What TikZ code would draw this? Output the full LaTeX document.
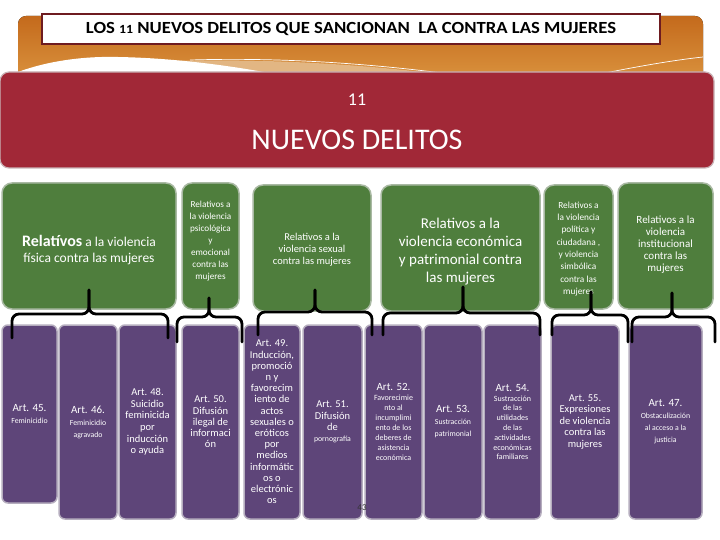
\documentclass[tikz,border=0pt]{standalone}
\usepackage{fontspec}
\setmainfont{Carlito}
\newfontfamily\titlefont[FakeStretch=1.1]{Carlito}
\definecolor{gfill}{HTML}{4F7E3D}
\definecolor{gline}{HTML}{A9B9A3}
\definecolor{pfill}{HTML}{5E4579}
\definecolor{pline}{HTML}{B5ADBE}
\definecolor{rfill}{HTML}{A12837}
\definecolor{rline}{HTML}{C9B3B6}
\definecolor{oranA}{HTML}{C46A1C}
\definecolor{oranB}{HTML}{DB9540}
\definecolor{tanband}{HTML}{E2B683}
\definecolor{tline}{HTML}{6E1B20}
\newcommand\smtxt{\fontsize{7.8}{10}\selectfont}
\newcommand\hdtxt{\fontsize{11}{12}\selectfont}
\begin{document}
\begin{tikzpicture}[x=1pt,y=-1pt,
  gbox/.style={draw=gline, line width=1.5pt, fill=gfill, rounded corners=10pt},
  gtext/.style={text=white, align=center, inner sep=0pt},
  pbox/.style={draw=pline, line width=1.5pt, fill=pfill, rounded corners=6pt, text=white, align=center, inner sep=1pt},
  bracepath/.style={line width=2.8pt, rounded corners=7pt, line cap=round},
]
\useasboundingbox (0,0) rectangle (720,540);
% orange header band
\fill[top color=oranA, bottom color=oranB, rounded corners=8pt] (18,16) rectangle (703,84);
\fill[tanband] (170,61) .. controls (280,58) and (380,66) .. (455,76) -- (240,76) -- cycle;
\fill[white] (18,76) -- (18,72) .. controls (45,62) and (80,56) .. (118,57) .. controls (175,58) and (235,66) .. (285,76) -- cycle;
\draw[white, line width=0.7pt] (190,60) .. controls (290,57) and (380,65) .. (450,74);
\draw[white, line width=0.7pt] (600,74) .. controls (640,66) and (675,60) .. (703,57);
\node[draw=tline, line width=1.6pt, fill=white, minimum width=618, minimum height=30, inner sep=0pt,
  font=\titlefont\fontsize{17}{18}\selectfont\bfseries] (title) at (351,29)
  {LOS {\fontsize{12.5}{12}\selectfont 11} NUEVOS DELITOS QUE SANCIONAN\ \ LA CONTRA LAS MUJERES};
% red banner
\node[draw=rline, line width=1.2pt, fill=rfill, rounded corners=9pt, minimum width=714, minimum height=96] (red) at (357,120) {};
\node[text=white, font=\fontsize{18}{20}\selectfont] (n11) at (357,100) {11};
\node[text=white, font=\fontsize{30}{30}\selectfont] (nd) at (357,140) {NUEVOS DELITOS};
% green boxes
\node[gbox, minimum width=174, minimum height=126] (g1) at (89,246) {};
\node[gbox, minimum width=57, minimum height=126] (g2) at (210.5,246) {};
\node[gbox, minimum width=118, minimum height=126] (g3) at (312,248) {};
\node[gbox, minimum width=159, minimum height=126] (g4) at (460.5,248) {};
\node[gbox, minimum width=69, minimum height=124] (g5) at (578.5,247) {};
\node[gbox, minimum width=95, minimum height=126] (g6) at (665.5,246) {};
\node[gtext, font=\fontsize{13.5}{16}\selectfont] (g1t) at (89,250)
  {{\fontsize{16}{16}\selectfont\bfseries Relatívos} a la violencia\\física contra las mujeres};
\node[gtext, font=\fontsize{9.2}{12}\selectfont] (g2t) at (210.5,241)
  {Relativos a\\la violencia\\psicológica\\y\\emocional\\contra las\\mujeres};
\node[gtext, font=\fontsize{10.5}{12}\selectfont] (g3t) at (312,250)
  {Relativos a la\\violencia sexual\\contra las mujeres};
\node[gtext, font=\fontsize{15}{18}\selectfont] (g4t) at (460.5,252)
  {Relativos a la\\violencia económica\\y patrimonial contra\\las mujeres};
\node[gtext, font=\fontsize{9.3}{12.3}\selectfont] (g5t) at (578.5,249)
  {Relativos a\\la violencia\\política y\\ciudadana ,\\y violencia\\simbólica\\contra las\\mujeres};
\node[gtext, font=\fontsize{11}{12}\selectfont] (g6t) at (665.5,245)
  {Relativos a la\\violencia\\institucional\\contra las\\mujeres};
% purple boxes
\node[pbox, minimum width=55, minimum height=178, font=\hdtxt] (p1) at (29.5,414) {Art. 45.\\{\smtxt Feminicidio}};
\node[pbox, minimum width=58, minimum height=194, font=\hdtxt] (p2) at (88,422) {Art. 46.\\{\smtxt Feminicidio}\\{\smtxt agravado}};
\node[pbox, minimum width=57, minimum height=194, font=\fontsize{10.5}{11.6}\selectfont] (p3) at (147.5,422) {Art. 48.\\Suicidio\\feminicida\\por\\inducción\\o ayuda};
\node[pbox, minimum width=57, minimum height=194, font=\fontsize{10.5}{11.2}\selectfont] (p4) at (210.5,422) {Art. 50.\\Difusión\\ilegal de\\informaci\\ón};
\node[pbox, minimum width=56, minimum height=194, font=\fontsize{10.5}{11.2}\selectfont] (p5) at (272,422) {Art. 49.\\Inducción,\\promoció\\n y\\favorecim\\iento de\\actos\\sexuales o\\eróticos\\por\\medios\\informátic\\os o\\electrónic\\os};
\node[pbox, minimum width=59, minimum height=194, font=\fontsize{10.5}{11.2}\selectfont] (p6) at (332.5,422) {Art. 51.\\Difusión\\de\\{\smtxt pornografía}};
\node[pbox, minimum width=57, minimum height=194, font=\fontsize{8}{10}\selectfont] (p7) at (393.5,422) {{\hdtxt Art. 52.}\\Favorecimie\\nto al\\incumplimi\\ento de los\\deberes de\\asistencia\\económica};
\node[pbox, minimum width=58, minimum height=194, font=\hdtxt] (p8) at (453,422) {Art. 53.\\{\smtxt Sustracción}\\{\smtxt patrimonial}};
\node[pbox, minimum width=57, minimum height=194, font=\fontsize{8}{9.8}\selectfont] (p9) at (512.5,422) {{\hdtxt Art. 54.}\\Sustracción\\de las\\utilidades\\de las\\actividades\\económicas\\familiares};
\node[pbox, minimum width=68, minimum height=194, font=\fontsize{10.5}{11.5}\selectfont] (p10) at (585,422) {Art. 55.\\Expresiones\\de violencia\\contra las\\mujeres};
\node[pbox, minimum width=73, minimum height=194, font=\hdtxt] (p11) at (665.5,422) {Art. 47.\\{\smtxt Obstaculización}\\{\smtxt al acceso a la}\\{\smtxt justicia}};
\node[text=black!80, font=\fontsize{9}{10}\selectfont, inner sep=0pt] (pg) at (362,508) {43};
% braces
\coordinate (t1) at (89,290);  \coordinate (h1) at (89,314);  \coordinate (l1) at (12,338);  \coordinate (r1) at (168,338);
\coordinate (t2) at (209,298); \coordinate (h2) at (209,317); \coordinate (l2) at (177,342); \coordinate (r2) at (242,342);
\coordinate (t3) at (315,290); \coordinate (h3) at (315,312); \coordinate (l3) at (258,335); \coordinate (r3) at (372,335);
\coordinate (t4) at (463,287); \coordinate (h4) at (463,313); \coordinate (l4) at (383,335); \coordinate (r4) at (540,335);
\coordinate (t5) at (591,292); \coordinate (h5) at (591,315); \coordinate (l5) at (552,335); \coordinate (r5) at (628,342);
\coordinate (t6) at (672,293); \coordinate (h6) at (672,317); \coordinate (l6) at (632,342); \coordinate (r6) at (715,342);
\foreach \i in {1,...,6}{
  \draw[bracepath] (l\i) -- (l\i |- h\i) -- (h\i) -- (t\i);
  \draw[bracepath] (r\i) -- (r\i |- h\i) -- (h\i) -- (t\i);
}
\end{tikzpicture}
\end{document}
